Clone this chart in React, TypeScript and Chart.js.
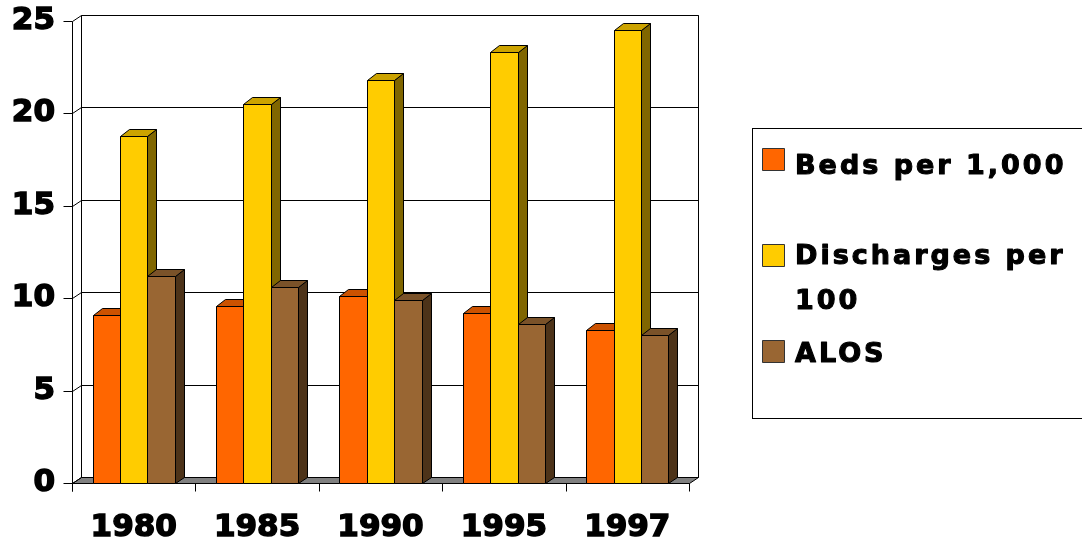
import React, { useEffect, useRef } from "react";
import { Chart, registerables } from "chart.js";

Chart.register(...registerables);

// ---- data ----
const categories = ["1980", "1985", "1990", "1995", "1997"];
const bedsPer1000 = [9.1, 9.6, 10.1, 9.2, 8.3];
const dischargesPer100 = [18.8, 20.5, 21.8, 23.3, 24.5];
const alos = [11.2, 10.6, 9.9, 8.6, 8.0];
const seriesLabels = ["Beds per 1,000", "Discharges per 100", "ALOS"];
const legendLines = [["Beds per 1,000"], ["Discharges per", "100"], ["ALOS"]];
const yMin = 0;
const yMax = 25;
const yStep = 5;

// ---- styles ----
const FRONT = ["#FF6600", "#FFCC00", "#996633"];
const TOP = ["#CC5200", "#CCA300", "#7A5229"];
const SIDE = ["#803300", "#806600", "#4D3319"];
const WALL_DX = 9;
const WALL_DY = -6;
const BAR_DX = 9;
const BAR_DY = -7;
const FONT = "'DejaVu Sans', 'Liberation Sans', Arial, sans-serif";

const threeD = {
  id: "threeD",
  beforeDatasetsDraw(chart: any) {
    const { ctx, chartArea: a, scales } = chart;
    const y = scales.y;
    const L = Math.round(a.left) + 0.5;
    const R = Math.round(a.right) + 0.5;
    const T = Math.round(a.top) + 0.5;
    const B = Math.round(a.bottom) + 0.5;
    ctx.save();
    ctx.lineWidth = 1;
    ctx.strokeStyle = "#000";
    // floor
    ctx.fillStyle = "#808080";
    ctx.beginPath();
    ctx.moveTo(L, B);
    ctx.lineTo(R, B);
    ctx.lineTo(R + WALL_DX, B + WALL_DY);
    ctx.lineTo(L + WALL_DX, B + WALL_DY);
    ctx.closePath();
    ctx.fill();
    ctx.stroke();
    // back wall border
    ctx.beginPath();
    ctx.rect(L + WALL_DX, T + WALL_DY, R - L, B - T);
    ctx.stroke();
    // gridlines and y ticks
    for (let v = yMin; v <= yMax; v += yStep) {
      const py = Math.round(y.getPixelForValue(v)) + 0.5;
      ctx.beginPath();
      if (v > yMin) {
        ctx.moveTo(L + WALL_DX, py + WALL_DY);
        ctx.lineTo(R + WALL_DX, py + WALL_DY);
      }
      ctx.moveTo(L - 9, py);
      ctx.lineTo(L, py);
      ctx.lineTo(L + WALL_DX, py + WALL_DY);
      ctx.stroke();
    }
    // left wall front edge
    ctx.beginPath();
    ctx.moveTo(L, T);
    ctx.lineTo(L, B + 8);
    ctx.stroke();
    // front axis + x ticks
    ctx.beginPath();
    ctx.moveTo(L, B);
    ctx.lineTo(R, B);
    const n = categories.length;
    for (let i = 0; i <= n; i++) {
      const px = Math.round(a.left + (i * (a.right - a.left)) / n) + 0.5;
      ctx.moveTo(px, B);
      ctx.lineTo(px, B + 8);
    }
    ctx.stroke();
    ctx.restore();
  },
  afterDatasetsDraw(chart: any) {
    const { ctx } = chart;
    ctx.save();
    ctx.lineWidth = 1;
    ctx.strokeStyle = "#000";
    ctx.lineJoin = "miter";
    const nSets = chart.data.datasets.length;
    for (let i = 0; i < categories.length; i++) {
      for (let d = 0; d < nSets; d++) {
        const el = chart.getDatasetMeta(d).data[i];
        if (!el) continue;
        const p = el.getProps(["x", "y", "base", "width"], true);
        const left = Math.round(p.x - p.width / 2) + 0.5;
        const right = Math.round(p.x + p.width / 2) + 0.5;
        const top = Math.round(p.y) + 0.5;
        const bottom = Math.round(p.base) + 0.5;
        // side
        ctx.fillStyle = SIDE[d];
        ctx.beginPath();
        ctx.moveTo(right, top);
        ctx.lineTo(right + BAR_DX, top + BAR_DY);
        ctx.lineTo(right + BAR_DX, bottom + WALL_DY);
        ctx.lineTo(right, bottom);
        ctx.closePath();
        ctx.fill();
        ctx.stroke();
        // top
        ctx.fillStyle = TOP[d];
        ctx.beginPath();
        ctx.moveTo(left, top);
        ctx.lineTo(left + BAR_DX, top + BAR_DY);
        ctx.lineTo(right + BAR_DX, top + BAR_DY);
        ctx.lineTo(right, top);
        ctx.closePath();
        ctx.fill();
        ctx.stroke();
        // front
        ctx.fillStyle = FRONT[d];
        ctx.beginPath();
        ctx.rect(left, top, right - left, bottom - top);
        ctx.fill();
        ctx.stroke();
      }
    }
    ctx.restore();
  },
};

const boxLegend = {
  id: "boxLegend",
  afterDraw(chart: any) {
    const { ctx } = chart;
    ctx.save();
    ctx.lineWidth = 1;
    ctx.strokeStyle = "#000";
    ctx.strokeRect(752.5, 128.5, 360, 290);
    const squareTops = [148, 244, 340];
    const baselines = [[174], [264, 309], [362]];
    ctx.font = `bold 27px ${FONT}`;
    try {
      (ctx as any).letterSpacing = "3px";
    } catch (e) {}
    ctx.textAlign = "left";
    ctx.textBaseline = "alphabetic";
    ctx.lineJoin = "round";
    for (let k = 0; k < legendLines.length; k++) {
      ctx.lineWidth = 1;
      ctx.fillStyle = FRONT[k];
      ctx.strokeStyle = "#333";
      ctx.fillRect(762.5, squareTops[k] + 0.5, 22, 22);
      ctx.strokeRect(762.5, squareTops[k] + 0.5, 22, 22);
      ctx.fillStyle = "#000";
      ctx.strokeStyle = "#000";
      ctx.lineWidth = 1.1;
      legendLines[k].forEach((line, j) => {
        ctx.fillText(line, 795, baselines[k][j]);
        ctx.strokeText(line, 795, baselines[k][j]);
      });
    }
    ctx.restore();
  },
};

export default function App() {
  const ref = useRef<HTMLCanvasElement | null>(null);
  useEffect(() => {
    if (!ref.current) return;
    const chart = new Chart(ref.current, {
      type: "bar",
      data: {
        labels: categories,
        datasets: [
          { label: seriesLabels[0], data: bedsPer1000, backgroundColor: "rgba(0,0,0,0)", borderWidth: 0 },
          { label: seriesLabels[1], data: dischargesPer100, backgroundColor: "rgba(0,0,0,0)", borderWidth: 0 },
          { label: seriesLabels[2], data: alos, backgroundColor: "rgba(0,0,0,0)", borderWidth: 0 },
        ],
      },
      options: {
        animation: false,
        responsive: false,
        devicePixelRatio: 1,
        layout: { padding: { top: 21, right: 393, left: 0, bottom: 0 } },
        datasets: { bar: { categoryPercentage: 0.667, barPercentage: 1.0 } },
        plugins: { legend: { display: false }, tooltip: { enabled: false }, title: { display: false } },
        scales: {
          x: {
            grid: { display: false, drawTicks: false },
            border: { display: false },
            ticks: {
              color: "#000",
              font: { family: FONT, size: 31, weight: "bold" },
              padding: 26,
              maxRotation: 0,
              textStrokeColor: "#000",
              textStrokeWidth: 1.5,
            },
            afterFit: (s: any) => {
              s.height = 64;
            },
          },
          y: {
            min: yMin,
            max: yMax,
            grid: {
              display: true,
              drawOnChartArea: false,
              drawTicks: true,
              tickLength: 17,
              color: "rgba(0,0,0,0)",
            },
            border: { display: false },
            ticks: {
              stepSize: yStep,
              color: "#000",
              font: { family: FONT, size: 31, weight: "bold" },
              padding: 0,
              textStrokeColor: "#000",
              textStrokeWidth: 1.5,
            },
            afterFit: (s: any) => {
              s.width = 72;
            },
          },
        },
      },
      plugins: [threeD, boxLegend],
    } as any);
    return () => chart.destroy();
  }, []);
  return (
    <div style={{ position: "fixed", left: 0, top: 0, width: 1082, height: 547, background: "#fff" }}>
      <canvas ref={ref} width={1082} height={547} style={{ display: "block" }} />
    </div>
  );
}
